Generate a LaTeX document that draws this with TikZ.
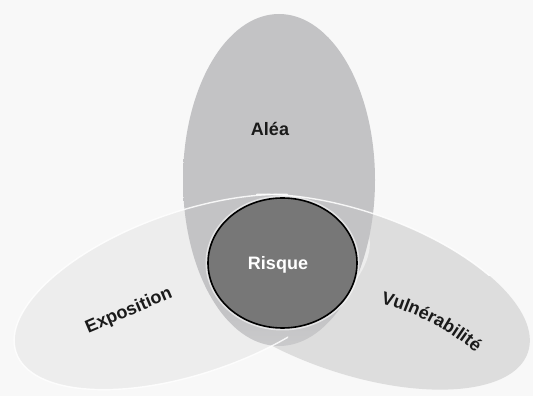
\documentclass[tikz,border=0pt]{standalone}
\usepackage{fontspec}
\setmainfont{Liberation Sans}
\usetikzlibrary{decorations.text}
\definecolor{bgc}{HTML}{F8F8F8}
\definecolor{aleac}{HTML}{C3C3C5}
\definecolor{aleabot}{HTML}{E0E0E0}
\definecolor{expoc}{HTML}{EDEDED}
\definecolor{vulnc}{HTML}{DDDDDD}
\definecolor{risqc}{HTML}{777777}
\definecolor{txtc}{HTML}{1A1A1A}
\pgfdeclareverticalshading{aleashade}{100bp}{color(0bp)=(aleabot); color(8bp)=(aleabot); color(30bp)=(aleac); color(100bp)=(aleac)}
\begin{document}
\begin{tikzpicture}[x=1pt,y=1pt,
  lab/.style={font=\bfseries\fontsize{18}{20}\selectfont, text=txtc, inner sep=0pt},
  rim/.style={draw=white, line width=1.4pt, draw opacity=0.85}]
\fill[bgc] (0,0) rectangle (533,396);
\useasboundingbox (0,0) rectangle (533,396);
% Vulnerabilite ellipse (right)
\fill[vulnc, rotate around={-19:(352,104)}] (352,104) ellipse[x radius=186, y radius=81];
% Exposition ellipse (left)
\fill[expoc, rotate around={19:(192,104)}] (192,104) ellipse[x radius=186, y radius=81];
% Alea ellipse (top)
\shade[shading=aleashade] (279,216) ellipse[x radius=96, y radius=166];
% white rims of the side ellipses
\begin{scope}
  \clip (0,0) rectangle (288,396);
  \path[rim, rotate around={19:(192,104)}] (192,104) ellipse[x radius=186, y radius=81];
\end{scope}
\begin{scope}
  \clip (256,120) rectangle (533,396);
  \path[rim, rotate around={-19:(352,104)}] (352,104) ellipse[x radius=186, y radius=81];
\end{scope}
% Risque circle
\draw[white, line width=5pt, opacity=0.55] (282.5,133) ellipse[x radius=74.5, y radius=65];
\draw[fill=risqc, draw=black, line width=1.6pt] (282.5,133) ellipse[x radius=74.5, y radius=65];
% labels
\node[lab] (alea) at (270,267) {Aléa};
\node[lab, text=white] (risque) at (278,131) {Risque};
\node[lab, rotate=23] (expo) at (129,85) {Exposition};
\path[decorate, decoration={text along path, text align=center,
  text={|\bfseries\fontsize{18}{20}\selectfont\color{txtc}|Vulnérabilité}}]
  (315.3,-148.5) ++(79:250) arc[start angle=79, end angle=46, radius=250];
\coordinate (vuln) at (430,75);
\end{tikzpicture}
\end{document}
